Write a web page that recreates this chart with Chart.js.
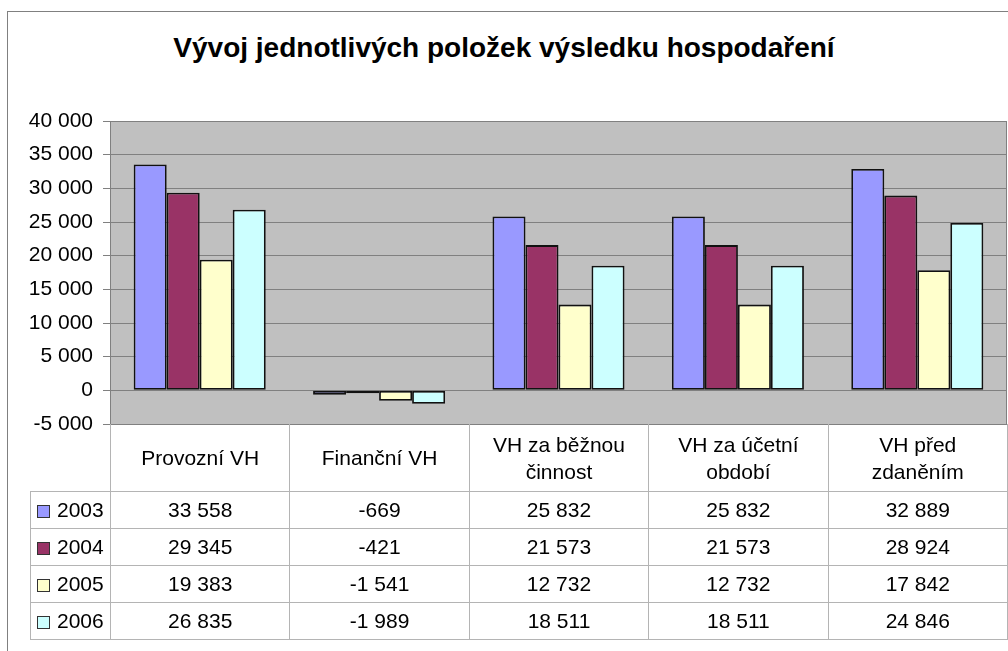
<!DOCTYPE html>
<html lang="cs">
<head>
<meta charset="utf-8">
<title>Vývoj jednotlivých položek výsledku hospodaření</title>
<script src="https://cdn.jsdelivr.net/npm/chart.js@4.4.0/dist/chart.umd.min.js"></script>
<style>
  html, body { margin: 0; padding: 0; background: #fff; overflow: hidden; }
  body { width: 1008px; height: 651px; position: relative; font-family: 'Liberation Sans', Arial, sans-serif; }
  #frame { position: absolute; left: 7px; top: 11px; width: 1100px; height: 700px; border: 1px solid #808080; box-sizing: border-box; }
  #title { position: absolute; left: 0; top: 34px; width: 1008px; text-align: center; font-size: 28px; line-height: 28px; font-weight: bold; color: #000; }
  #cv { position: absolute; left: 0; top: 0; }
  #tbl { position: absolute; left: 30px; top: 424px; border-collapse: collapse; table-layout: fixed; font-size: 21px; color: #000; }
  #tbl td { padding: 0; text-align: center; vertical-align: middle; border: 1px solid #b4b4b4; white-space: nowrap; }
  #tbl tr.head td { height: 67px; border-top: none; line-height: 27px; }
  #tbl tr.head td.corner { border-left: none; }
  #tbl tr.row td { height: 36px; }
  #tbl td.lg { text-align: left; padding-left: 6px; }
  #tbl td.c0 { border-left: 1px solid #808080; }
  .key { display: inline-block; width: 11px; height: 11px; border: 1px solid #333; margin-right: 7px; vertical-align: -1px; }
</style>
</head>
<body>
<div id="frame"></div>
<div id="title">Vývoj jednotlivých položek výsledku hospodaření</div>
<canvas id="cv" width="1008" height="651"></canvas>
<table id="tbl"></table>
<script>
// kategorie (víceřádkové popisky jako v tabulce dat)
const kategorie = [
  ['Provozní VH'],
  ['Finanční VH'],
  ['VH za běžnou', 'činnost'],
  ['VH za účetní', 'období'],
  ['VH před', 'zdaněním']
];
const roky = ['2003', '2004', '2005', '2006'];
const vh2003 = [33558, -669, 25832, 25832, 32889];
const vh2004 = [29345, -421, 21573, 21573, 28924];
const vh2005 = [19383, -1541, 12732, 12732, 17842];
const vh2006 = [26835, -1989, 18511, 18511, 24846];
const barvy = ['#9999ff', '#993366', '#ffffcc', '#ccffff'];
const osaY = { min: -5000, max: 40000, krok: 5000 };

const serie = [vh2003, vh2004, vh2005, vh2006];

const fmt = v => (v < 0 ? '-' : '') + String(Math.abs(v)).replace(/\B(?=(\d{3})+(?!\d))/g, ' ');

// pozadí a rámeček plochy grafu
const plochaPlugin = {
  id: 'plocha',
  beforeDraw(chart) {
    const { ctx, chartArea: a } = chart;
    ctx.save();
    ctx.fillStyle = '#c0c0c0';
    ctx.fillRect(a.left, a.top, a.right - a.left, a.bottom - a.top);
    ctx.restore();
  },
  afterDatasetsDraw(chart) {
    const { ctx, chartArea: a } = chart;
    ctx.save();
    ctx.strokeStyle = '#808080';
    ctx.lineWidth = 1;
    ctx.strokeRect(a.left + 0.5, a.top + 0.5, a.right - a.left - 1, a.bottom - a.top);
    ctx.restore();
  }
};

new Chart(document.getElementById('cv'), {
  type: 'bar',
  data: {
    labels: kategorie,
    datasets: serie.map((d, i) => ({
      label: roky[i],
      data: d,
      backgroundColor: barvy[i],
      borderColor: '#111',
      borderWidth: 1.8,
      borderSkipped: false,
      barPercentage: 1,
      categoryPercentage: 0.736
    }))
  },
  options: {
    responsive: false,
    animation: false,
    layout: { padding: { top: 121, right: 1, bottom: 227, left: 0 } },
    plugins: { legend: { display: false }, tooltip: { enabled: false }, title: { display: false } },
    scales: {
      x: { display: false },
      y: {
        min: osaY.min, max: osaY.max,
        afterFit: s => { s.width = 110; },
        grid: { color: '#808080', lineWidth: 1, tickLength: 7 },
        border: { color: '#808080' },
        ticks: {
          stepSize: osaY.krok, padding: 10, color: '#000',
          font: { family: "'Liberation Sans', Arial, sans-serif", size: 21 },
          callback: v => fmt(v)
        }
      }
    }
  },
  plugins: [plochaPlugin]
});

// tabulka dat pod grafem
const tbl = document.getElementById('tbl');
let html = '<colgroup><col style="width:80px">' + kategorie.map(() => '<col style="width:179.4px">').join('') + '</colgroup>';
html += '<tr class="head"><td class="corner"></td>' +
  kategorie.map((k, i) => `<td${i === 0 ? ' class="c0"' : ''}>${k.join('<br>')}</td>`).join('') + '</tr>';
roky.forEach((r, i) => {
  html += `<tr class="row"><td class="lg"><span class="key" style="background:${barvy[i]}"></span>${r}</td>` +
    serie[i].map((v, j) => `<td${j === 0 ? ' class="c0"' : ''}>${fmt(v)}</td>`).join('') + '</tr>';
});
tbl.innerHTML = html;
</script>
</body>
</html>
